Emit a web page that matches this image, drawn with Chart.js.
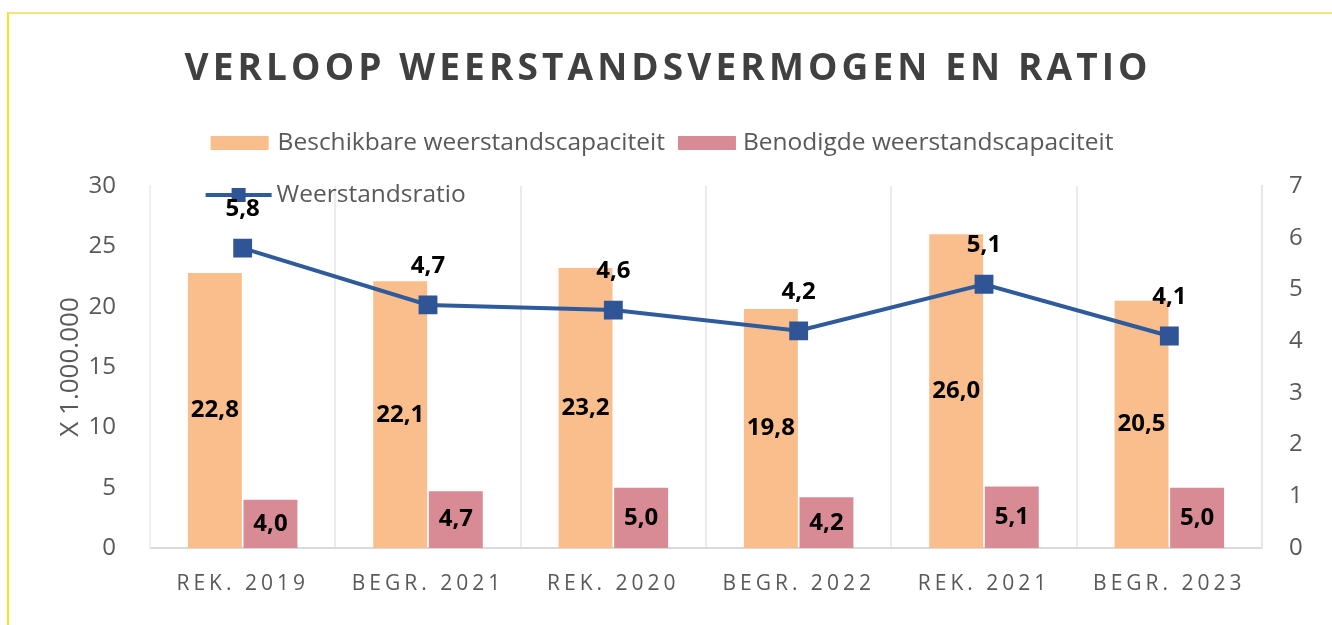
<!DOCTYPE html>
<html>
<head>
<meta charset="utf-8">
<script src="https://cdn.jsdelivr.net/npm/chart.js@4/dist/chart.umd.min.js"></script>
<style>
  html, body { margin: 0; padding: 0; background: #fff; }
  #wrap { position: relative; width: 1332px; height: 625px; overflow: hidden; }
  #frame { position: absolute; left: 7px; top: 12px; width: 1400px; height: 700px;
           border-top: 2px solid #F8E27C; border-left: 2px solid #FFE020; pointer-events: none; }
  canvas { position: absolute; left: 0; top: 0; }
</style>
</head>
<body>
<div id="wrap">
  <canvas id="chart" width="1332" height="625"></canvas>
  <div id="frame"></div>
</div>
<script>
const categories = ['REK. 2019', 'BEGR. 2021', 'REK. 2020', 'BEGR. 2022', 'REK. 2021', 'BEGR. 2023'];
const beschikbaar = [22.8, 22.1, 23.2, 19.8, 26.0, 20.5];
const benodigd = [4.0, 4.7, 5.0, 4.2, 5.1, 5.0];
const ratio = [5.8, 4.7, 4.6, 4.2, 5.1, 4.1];

const chartTitle = 'VERLOOP WEERSTANDSVERMOGEN EN RATIO';
const fontFamily = "'Open Sans', 'Noto Sans', sans-serif";
const grey = '#595959';

const fmt = v => v.toFixed(1).replace('.', ',');

// title with letter spacing + custom legend (two rows like the original)
// drawn before the datasets so the value labels sit on top of it
const headerPlugin = {
    id: 'header',
    beforeDatasetsDraw(chart) {
        const ctx = chart.ctx;
        ctx.save();
        ctx.fillStyle = '#404040';
        ctx.font = 'bold 37px ' + fontFamily;
        ctx.textBaseline = 'middle';
        ctx.textAlign = 'left';
        const plain = ctx.measureText(chartTitle).width;
        const spacing = (963 - plain) / (chartTitle.length - 1);
        ctx.letterSpacing = spacing + 'px';
        ctx.fillText(chartTitle, 666 - 963 / 2, 69);
        ctx.letterSpacing = '0px';

        ctx.font = '24.5px ' + fontFamily;
        ctx.fillStyle = grey;
        const ds = chart.data.datasets;
        const sw = 58;
        const w1 = ctx.measureText(ds[0].label).width;
        const w2 = ctx.measureText(ds[1].label).width;
        const total = sw + 9 + w1 + 13 + sw + 7 + w2;
        let x = 662 - total / 2;
        const startX = x;
        const row1 = 143;
        ctx.fillStyle = ds[0].backgroundColor;
        ctx.fillRect(x, row1 - 7, sw, 14);
        ctx.fillStyle = grey;
        ctx.fillText(ds[0].label, x + sw + 9, row1);
        x += sw + 9 + w1 + 13;
        ctx.fillStyle = ds[1].backgroundColor;
        ctx.fillRect(x, row1 - 7, sw, 14);
        ctx.fillStyle = grey;
        ctx.fillText(ds[1].label, x + sw + 7, row1);

        const row2 = 195;
        const lx = startX - 5;
        ctx.strokeStyle = ds[2].borderColor;
        ctx.lineWidth = 4;
        ctx.beginPath();
        ctx.moveTo(lx, row2);
        ctx.lineTo(lx + 66, row2);
        ctx.stroke();
        ctx.fillStyle = ds[2].pointBackgroundColor;
        ctx.fillRect(lx + 33 - 7, row2 - 7, 14, 14);
        ctx.fillStyle = grey;
        ctx.fillText(ds[2].label, lx + 71, row2);
        ctx.restore();
    }
};

// value labels on bars and above line points
const valueLabels = {
    id: 'valueLabels',
    afterDatasetsDraw(chart) {
        const ctx = chart.ctx;
        ctx.save();
        ctx.font = 'bold 24px ' + fontFamily;
        ctx.fillStyle = '#000';
        ctx.textAlign = 'center';
        ctx.textBaseline = 'middle';
        chart.data.datasets.forEach((ds, di) => {
            const meta = chart.getDatasetMeta(di);
            meta.data.forEach((el, i) => {
                const v = ds.data[i];
                if (ds.type === 'line') {
                    ctx.fillText(fmt(v), el.x, el.y - 39);
                } else {
                    ctx.fillText(fmt(v), el.x, (el.y + el.base) / 2);
                }
            });
        });
        ctx.restore();
    }
};

// spaced-out category labels
const spacedTicks = {
    id: 'spacedTicks',
    beforeDraw(chart) {
        const xs = chart.scales.x;
        if (!xs._spaced) {
            const orig = xs.drawLabels.bind(xs);
            xs.drawLabels = (area) => {
                chart.ctx.save();
                chart.ctx.letterSpacing = '4px';
                orig(area);
                chart.ctx.restore();
            };
            xs._spaced = true;
        }
    }
};

const ctx = document.getElementById('chart').getContext('2d');

new Chart(ctx, {
    type: 'bar',
    data: {
        labels: categories,
        datasets: [
            {
                type: 'bar',
                label: 'Beschikbare weerstandscapaciteit',
                data: beschikbaar,
                backgroundColor: '#F9BE8C',
                yAxisID: 'y',
                order: 1,
                categoryPercentage: 0.6,
                barPercentage: 0.97
            },
            {
                type: 'bar',
                label: 'Benodigde weerstandscapaciteit',
                data: benodigd,
                backgroundColor: '#D98B95',
                yAxisID: 'y',
                order: 1,
                categoryPercentage: 0.6,
                barPercentage: 0.97
            },
            {
                type: 'line',
                label: 'Weerstandsratio',
                data: ratio,
                borderColor: '#2F5A9B',
                borderWidth: 4,
                pointStyle: 'rect',
                pointRadius: 10.5,
                pointBackgroundColor: '#2F5597',
                pointBorderColor: '#2F5597',
                yAxisID: 'y2',
                order: 0,
                tension: 0
            }
        ]
    },
    options: {
        responsive: false,
        animation: false,
        layout: { padding: { top: 186, left: 0, right: 0, bottom: 0 } },
        plugins: {
            legend: { display: false },
            title: { display: false },
            tooltip: { enabled: false }
        },
        scales: {
            x: {
                grid: { display: true, offset: true, drawTicks: false, color: '#EBEBEB', lineWidth: 2 },
                border: { display: true, color: '#D9D9D9', width: 2 },
                ticks: { color: grey, font: { family: fontFamily, size: 21 }, padding: 23, maxRotation: 0 },
                afterFit: s => { s.height = 77; }
            },
            y: {
                position: 'left',
                min: 0,
                max: 30,
                grid: { display: false },
                border: { display: true, color: '#EFEFEF', width: 2 },
                ticks: { stepSize: 5, color: grey, font: { family: fontFamily, size: 24 }, padding: 26 },
                title: {
                    display: true,
                    text: 'X 1.000.000',
                    color: grey,
                    font: { family: fontFamily, size: 26 },
                    padding: { top: 55, bottom: 0 }
                },
                afterFit: s => { s.width = 150; }
            },
            y2: {
                position: 'right',
                min: 0,
                max: 7,
                grid: { display: false },
                border: { display: true, color: '#E6E6E6', width: 2 },
                ticks: { stepSize: 1, color: grey, font: { family: fontFamily, size: 24 }, padding: 19 },
                afterFit: s => { s.width = 70; }
            }
        }
    },
    plugins: [spacedTicks, headerPlugin, valueLabels]
});
</script>
</body>
</html>
